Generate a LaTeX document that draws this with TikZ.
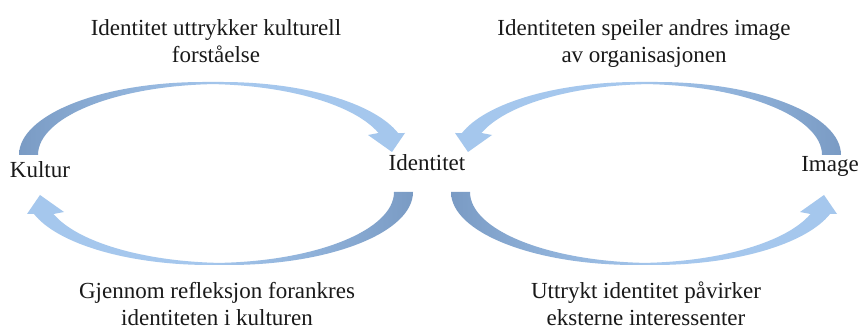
\documentclass[tikz,border=0pt]{standalone}
\usepackage{fontspec}
\setmainfont{Liberation Serif}
\definecolor{darkB}{RGB}{122,155,196}
\definecolor{midB}{RGB}{140,174,214}
\definecolor{lightB}{RGB}{165,199,237}
\definecolor{txt}{RGB}{25,25,25}
\pgfdeclarehorizontalshading{darkleft}{100bp}{color(0bp)=(darkB); color(25bp)=(darkB); color(36bp)=(midB); color(52bp)=(lightB); color(100bp)=(lightB)}
\pgfdeclarehorizontalshading{darkright}{100bp}{color(0bp)=(lightB); color(48bp)=(lightB); color(64bp)=(midB); color(75bp)=(darkB); color(100bp)=(darkB)}
\newcommand\arrowpath{(19,179) arc[start angle=180,end angle=90,x radius=184.3,y radius=73] -- (222.3,252) arc[start angle=90,end angle=17.5,x radius=184.3,y radius=73] -- (405,201) -- (392,182) -- (368,199) -- (378.5,201) arc[start angle=18.05,end angle=87,x radius=184.3,y radius=71] -- (212.65,249.9) arc[start angle=93,end angle=180,x radius=184.3,y radius=71] -- cycle}
\tikzset{
  lbl/.style={font=\fontsize{23}{27}\selectfont, text=txt, align=center, inner sep=0pt, anchor=base},
  arrowL/.style={draw=none, shading=darkleft},
  arrowR/.style={draw=none, shading=darkright}
}
\begin{document}
\begin{tikzpicture}[x=1pt,y=1pt]
\useasboundingbox (0,0) rectangle (861,334);
\fill[white] (0,0) rectangle (861,334);
% arrows
\path[arrowL] \arrowpath;
\begin{scope}[shift={(432,321)}, xscale=-1, yscale=-1]
  \path[arrowR] \arrowpath;
\end{scope}
\begin{scope}[shift={(860,0)}, xscale=-1]
  \path[arrowR] \arrowpath;
\end{scope}
\begin{scope}[shift={(432,321)}, yscale=-1]
  \path[arrowL] \arrowpath;
\end{scope}
% nodes
\node[lbl] (kultur) at (40,156) {Kultur};
\node[lbl] (identitet) at (427,163) {Identitet};
\node[lbl] (image) at (830,162) {Image};
\node[lbl] (tl) at (216,271) {Identitet uttrykker kulturell\\forståelse};
\node[lbl] (tr) at (644,271) {Identiteten speiler andres image\\av organisasjonen};
\node[lbl] (bl) at (217,8) {Gjennom refleksjon forankres\\identiteten i kulturen};
\node[lbl] (br) at (646,8) {Uttrykt identitet påvirker\\eksterne interessenter};
\end{tikzpicture}
\end{document}
